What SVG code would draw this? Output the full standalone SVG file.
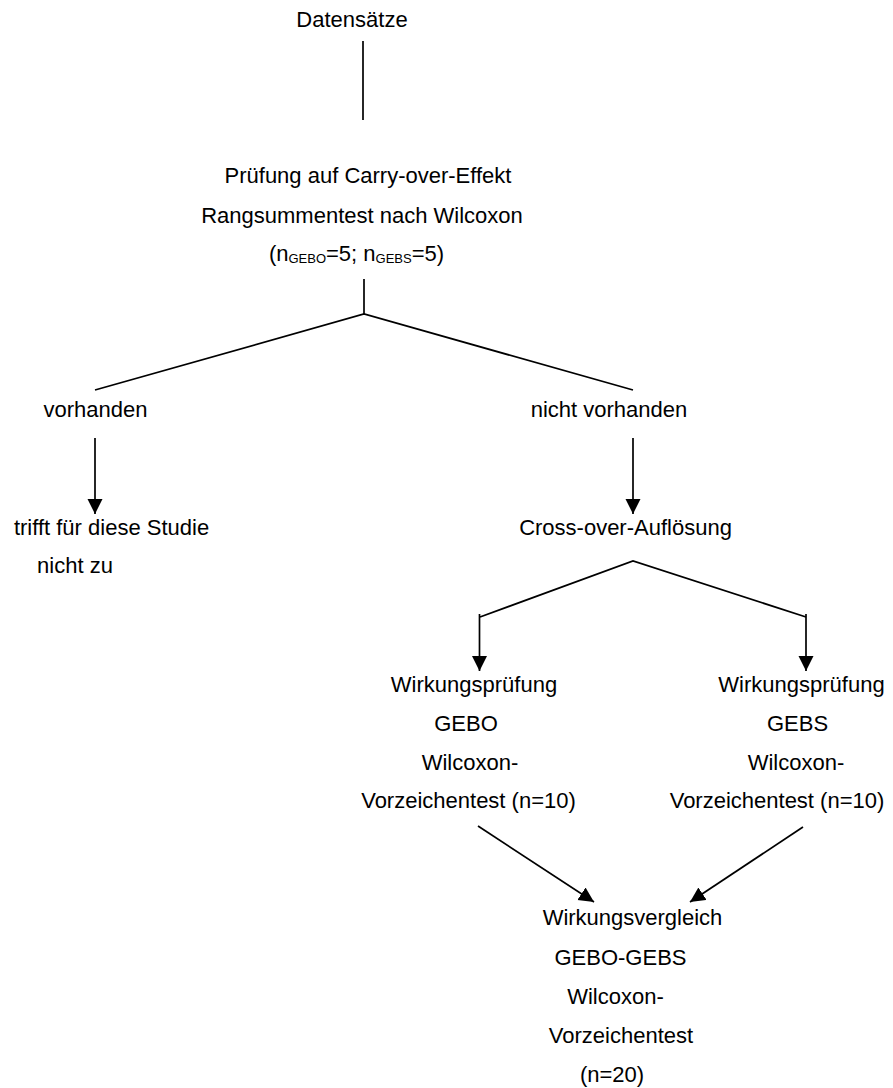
<svg xmlns="http://www.w3.org/2000/svg" width="893" height="1088" viewBox="0 0 893 1088">
<style>
  text { font-family: "Liberation Sans", Arial, sans-serif; font-size: 22px; fill: #000; text-anchor: middle; }
  .sub { font-size: 13px; }
  .ln { stroke: #000; stroke-width: 1.7; fill: none; }
  .arr { marker-end: url(#ah); }
</style>
<defs>
  <marker id="ah" markerUnits="userSpaceOnUse" markerWidth="16" markerHeight="16" refX="15" refY="7.5" orient="auto">
    <path d="M0,0 L15,7.5 L0,15 Z" fill="#000"/>
  </marker>
</defs>
<rect width="893" height="1088" fill="#fff"/>
<g id="connectors">
  <line class="ln" x1="363" y1="41" x2="363" y2="120"/>
  <line class="ln" x1="364" y1="279" x2="364" y2="314"/>
  <polyline class="ln" points="95,390 364,314 633,390"/>
  <line class="ln arr" x1="95" y1="438" x2="95" y2="514"/>
  <line class="ln arr" x1="633" y1="438" x2="633" y2="514"/>
  <polyline class="ln" points="480,617 633,561 806,617"/>
  <line class="ln arr" x1="479.5" y1="614" x2="479.5" y2="671"/>
  <line class="ln arr" x1="806" y1="614" x2="806" y2="671"/>
  <line class="ln arr" x1="478" y1="826" x2="594" y2="902"/>
  <line class="ln arr" x1="803" y1="827" x2="690" y2="902"/>
</g>
<g id="n-datensaetze"><text x="352" y="27">Datensätze</text></g>
<g id="n-pruefung">
  <text x="368" y="183">Prüfung auf Carry-over-Effekt</text>
  <text x="362" y="223">Rangsummentest nach Wilcoxon</text>
  <text x="356.5" y="261">(n<tspan class="sub" dy="2">GEBO</tspan><tspan dy="-2">=5; n</tspan><tspan class="sub" dy="2">GEBS</tspan><tspan dy="-2">=5)</tspan></text>
</g>
<g id="n-vorhanden"><text x="95.5" y="417">vorhanden</text></g>
<g id="n-nicht-vorhanden"><text x="609" y="417">nicht vorhanden</text></g>
<g id="n-trifft">
  <text x="111.5" y="535">trifft für diese Studie</text>
  <text x="75" y="573">nicht zu</text>
</g>
<g id="n-crossover"><text x="625.5" y="535">Cross-over-Auflösung</text></g>
<g id="n-gebo">
  <text x="474" y="692">Wirkungsprüfung</text>
  <text x="466" y="731">GEBO</text>
  <text x="470" y="770">Wilcoxon-</text>
  <text x="468.5" y="808">Vorzeichentest (n=10)</text>
</g>
<g id="n-gebs">
  <text x="801.5" y="692">Wirkungsprüfung</text>
  <text x="797.5" y="731">GEBS</text>
  <text x="796" y="770">Wilcoxon-</text>
  <text x="777" y="808">Vorzeichentest (n=10)</text>
</g>
<g id="n-vergleich">
  <text x="632.5" y="925">Wirkungsvergleich</text>
  <text x="620.5" y="965">GEBO-GEBS</text>
  <text x="615.5" y="1004">Wilcoxon-</text>
  <text x="621" y="1043">Vorzeichentest</text>
  <text x="612" y="1082">(n=20)</text>
</g>
</svg>
